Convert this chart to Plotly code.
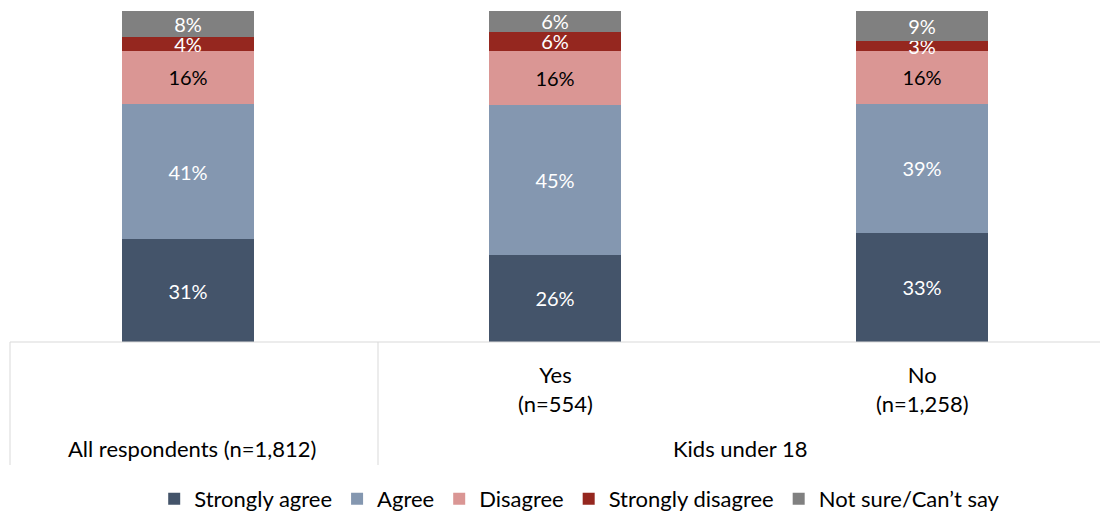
import plotly.graph_objects as go

# data (segment shares, labels shown rounded)
groups = ["All respondents", "Yes", "No"]
series = ["Strongly agree", "Agree", "Disagree", "Strongly disagree", "Not sure/Can\u2019t say"]
strongly_agree = [31, 26.3, 33]
agree = [41, 45.4, 39]
disagree = [16, 16.3, 16]
strongly_disagree = [4, 5.8, 3]
not_sure = [8, 6.2, 9]
values = [strongly_agree, agree, disagree, strongly_disagree, not_sure]

colors = ["#44546A", "#8497B0", "#DA9694", "#95271F", "#808080"]
text_colors = ["white", "white", "black", "white", "white"]

FONT = "Lato"
x_pos = [0, 1, 2]

fig = go.Figure()
for name, vals, c, tc in zip(series, values, colors, text_colors):
    fig.add_trace(go.Bar(
        x=x_pos, y=vals, name=name,
        marker=dict(color=c, line=dict(width=0)),
        width=0.362,
        texttemplate="%{y:.0f}%",
        textposition="inside",
        insidetextanchor="middle",
        textfont=dict(color=tc, size=20, family=FONT),
        hoverinfo="skip",
    ))

def ypx(p):
    # pixel row -> paper coords (plot area 11..342)
    return (342 - p) / 331

def xpx(p):
    # pixel column -> paper coords (plot area 10..1100)
    return (p - 10) / 1090

line_col = "#D9D9D9"
shapes = [
    dict(type="line", xref="paper", yref="paper", x0=0, x1=1, y0=0, y1=0,
         line=dict(color=line_col, width=1)),
    dict(type="line", xref="paper", yref="paper", x0=0, x1=0, y0=0, y1=ypx(465),
         line=dict(color=line_col, width=1)),
    dict(type="line", xref="paper", yref="paper", x0=xpx(378), x1=xpx(378), y0=0, y1=ypx(465),
         line=dict(color=line_col, width=1)),
]

annots = [
    dict(x=1, y=ypx(389), xref="x", yref="paper", text="Yes<br>(n=554)"),
    dict(x=2, y=ypx(389), xref="x", yref="paper", text="No<br>(n=1,258)"),
    dict(x=0.01, y=ypx(449), xref="x", yref="paper", text="All respondents (n=1,812)"),
    dict(x=xpx(740), y=ypx(449), xref="paper", yref="paper", text="Kids under 18"),
]
for a in annots:
    a.update(showarrow=False, font=dict(size=22, color="black", family=FONT),
             xanchor="center", yanchor="middle")

fig.update_layout(
    barmode="stack",
    width=1100, height=512,
    margin=dict(l=10, r=0, t=11, b=170),
    paper_bgcolor="white", plot_bgcolor="white",
    font=dict(family=FONT, size=20, color="black"),
    uniformtext=dict(minsize=20, mode="show"),
    xaxis=dict(range=[-0.485, 2.485], showticklabels=False, showgrid=False,
               zeroline=False, fixedrange=True),
    yaxis=dict(range=[0, 100], visible=False, fixedrange=True),
    legend=dict(orientation="h", xref="container", yref="container",
                x=0.527, xanchor="center", y=13 / 512, yanchor="middle",
                font=dict(size=22, family=FONT),
                traceorder="normal", itemwidth=30),
    shapes=shapes,
    annotations=annots,
    showlegend=True,
)

# drop the default page margin so the figure sits at the window's corner
fig.write_html("out.html", config={"displayModeBar": False},
               post_script="document.body.style.margin='0';")
